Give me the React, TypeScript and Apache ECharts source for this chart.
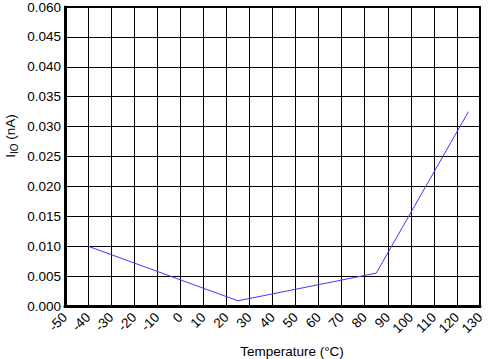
import React, { useEffect, useRef } from "react";
import * as echarts from "echarts";

const temperatures = [-40, 25, 85, 125];
const currents = [0.01, 0.00087, 0.0055, 0.0325];
const yTickValues = [0, 0.005, 0.01, 0.015, 0.02, 0.025, 0.03, 0.035, 0.04, 0.045, 0.05];
const yTickLabels = ["0.000", "0.005", "0.010", "0.015", "0.020", "0.025", "0.030", "0.035", "0.040", "0.045", "0.060"];
const xTitle = "Temperature (°C)";

const FONT = "'Liberation Sans', Arial, Helvetica, sans-serif";

export default function App() {
  const ref = useRef<HTMLDivElement>(null);
  useEffect(() => {
    if (!ref.current) return;
    const chart = echarts.init(ref.current, null, { renderer: "svg" });
    chart.setOption({
      animation: false,
      backgroundColor: "#fff",
      grid: {
        left: 65,
        right: 10,
        top: 2,
        bottom: 53,
        show: true,
        borderColor: "#000",
        borderWidth: 2,
        backgroundColor: "transparent",
      },
      xAxis: {
        type: "value",
        min: -50,
        max: 130,
        interval: 10,
        axisLine: { show: true, onZero: false, lineStyle: { color: "#000", width: 3 } },
        axisTick: { show: false },
        splitLine: { show: true, lineStyle: { color: "#000", width: 1 } },
        axisLabel: {
          rotate: 45,
          margin: 9,
          color: "#000",
          fontSize: 13.5,
          fontFamily: FONT,
        },
      },
      yAxis: {
        type: "value",
        min: 0,
        max: 0.05,
        interval: 0.005,
        axisLine: { show: true, onZero: false, lineStyle: { color: "#000", width: 3 } },
        axisTick: { show: false },
        splitLine: { show: true, lineStyle: { color: "#000", width: 1 } },
        axisLabel: {
          margin: 4,
          color: "#000",
          fontSize: 13.5,
          fontFamily: FONT,
          formatter: (v: number) => {
            const i = yTickValues.findIndex((t) => Math.abs(t - v) < 1e-9);
            return i >= 0 ? yTickLabels[i] : "";
          },
        },
      },
      graphic: [
        {
          type: "text",
          x: 292,
          y: 351,
          style: {
            text: xTitle,
            fill: "#000",
            fontSize: 13.5,
            fontFamily: FONT,
            align: "center",
            verticalAlign: "middle",
          },
        },
        {
          type: "text",
          x: 10,
          y: 136,
          rotation: Math.PI / 2,
          style: {
            text: "{a|I}{s|IO}{a| (nA)}",
            fill: "#000",
            fontFamily: FONT,
            align: "center",
            verticalAlign: "middle",
            rich: {
              a: { fontSize: 13.5, fontFamily: FONT, fill: "#000", lineHeight: 18, verticalAlign: "middle" },
              s: { fontSize: 10, fontFamily: FONT, fill: "#000", lineHeight: 18, verticalAlign: "bottom" },
            },
          },
        },
      ],
      series: [
        {
          type: "line",
          data: temperatures.map((t, i) => [t, currents[i]]),
          showSymbol: false,
          symbol: "none",
          lineStyle: { color: "#3b3bff", width: 1 },
          z: 5,
        },
      ],
    });
    return () => chart.dispose();
  }, []);
  return <div ref={ref} style={{ width: 490, height: 359, position: "absolute", left: 0, top: 0 }} />;
}
